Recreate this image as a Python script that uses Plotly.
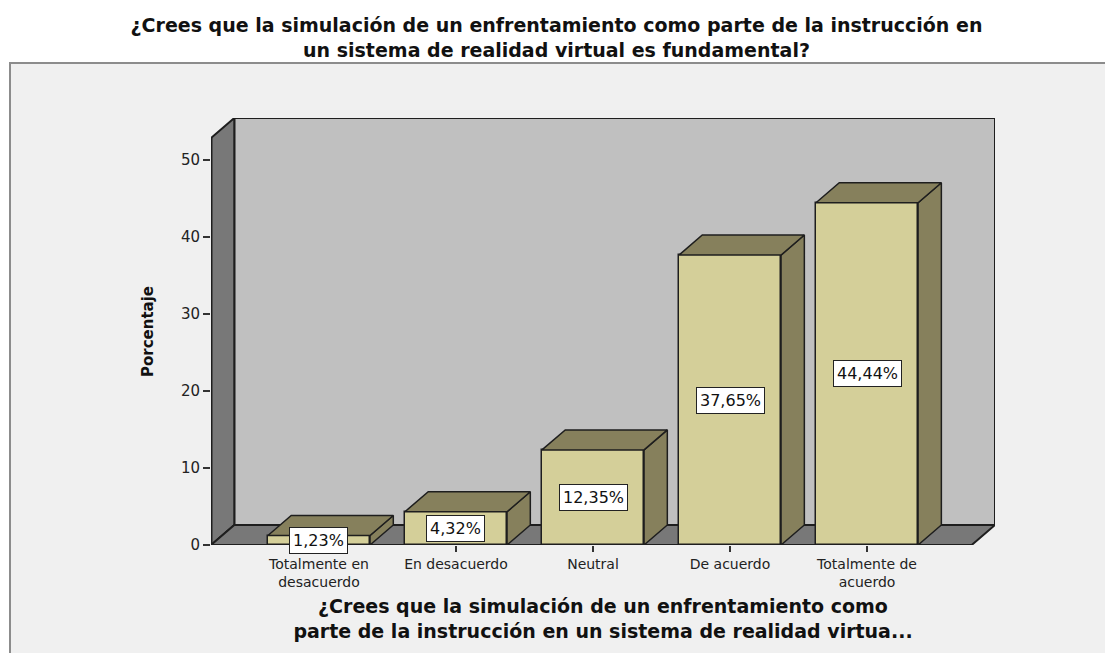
import plotly.graph_objects as go

# ---------------- data ----------------
categories = ["Totalmente en desacuerdo", "En desacuerdo", "Neutral",
              "De acuerdo", "Totalmente de acuerdo"]
tick_labels = ["Totalmente en<br>desacuerdo", "En desacuerdo", "Neutral",
               "De acuerdo", "Totalmente de<br>acuerdo"]
percentages = [1.23, 4.32, 12.35, 37.65, 44.44]
y_tick_values = [0, 10, 20, 30, 40, 50]

chart_title = ("¿Crees que la simulación de un enfrentamiento como parte de la instrucción en"
               "<br>un sistema de realidad virtual es fundamental?")
x_title = ("¿Crees que la simulación de un enfrentamiento como"
           "<br>parte de la instrucción en un sistema de realidad virtua...")
y_title = "Porcentaje"

# ---------------- styling / geometry ----------------
BAR_W = 0.745
DX = 0.17          # depth offset in x units
DY = 2.6           # depth offset in y units
X_MIN, X_MAX = -0.788, 4.934
Y_MAX = 55.45

FRONT = "#D4CF99"
SHADE = "#86805C"
WALL_BACK = "#C0C0C0"
WALL_SIDE = "#787878"
EDGE = "#1E1E1E"
FONT = "DejaVu Sans"

x_pos = list(range(len(categories)))
labels = [f"{v:.2f}".replace(".", ",") + "%" for v in percentages]

# top and side faces of each bar, derived from the values
top_x, top_y, side_x, side_y = [], [], [], []
for x, v in zip(x_pos, percentages):
    l, r = x - BAR_W / 2, x + BAR_W / 2
    top_x += [l, r, r + DX, l + DX, l, None]
    top_y += [v, v, v + DY, v + DY, v, None]
    side_x += [r, r, r + DX, r + DX, r, None]
    side_y += [0, v, v + DY, DY, 0, None]

fig = go.Figure()
fig.add_trace(go.Bar(
    x=x_pos, y=percentages, width=BAR_W,
    marker=dict(color=FRONT, line=dict(color=EDGE, width=1.5)),
    hoverinfo="skip", showlegend=False,
))
fig.add_trace(go.Scatter(
    x=side_x, y=side_y, mode="lines", fill="toself", fillcolor=SHADE,
    line=dict(color=EDGE, width=1.5), hoverinfo="skip", showlegend=False,
))
fig.add_trace(go.Scatter(
    x=top_x, y=top_y, mode="lines", fill="toself", fillcolor=SHADE,
    line=dict(color=EDGE, width=1.5), hoverinfo="skip", showlegend=False,
))

# value labels
for x, v, t in zip(x_pos, percentages, labels):
    fig.add_annotation(
        x=x, y=v / 2, text=t, showarrow=False,
        font=dict(family=FONT, size=16, color="#111111"),
        bgcolor="white", bordercolor="#222222", borderwidth=1, borderpad=3,
    )

W, H = 1113, 653
PAGE = 8  # browser body margin offset
ML, MT = 211 - PAGE, 118 - PAGE
pw, ph = 784, 427
MR, MB = W - ML - pw, H - MT - ph

shapes = [
    # outer chart frame
    dict(type="rect", xref="paper", yref="paper",
         x0=(10 - PAGE - ML) / pw, x1=(W + 20 - ML) / pw,
         y0=-(MB + 20) / ph, y1=(MT + ph - (63 - PAGE)) / ph,
         fillcolor="#F0F0F0", line=dict(color="#8C8C8C", width=2), layer="below"),
    # back wall
    dict(type="rect", xref="x", yref="y", x0=X_MIN + DX, x1=X_MAX, y0=DY, y1=Y_MAX,
         fillcolor=WALL_BACK, line=dict(color=EDGE, width=2), layer="below"),
    # side wall
    dict(type="path", xref="x", yref="y",
         path=f"M {X_MIN},0 L {X_MIN},{Y_MAX - DY} L {X_MIN + DX},{Y_MAX} L {X_MIN + DX},{DY} Z",
         fillcolor=WALL_SIDE, line=dict(color=EDGE, width=2), layer="below"),
    # floor
    dict(type="path", xref="x", yref="y",
         path=f"M {X_MIN},0 L {X_MAX - DX},0 L {X_MAX},{DY} L {X_MIN + DX},{DY} Z",
         fillcolor=WALL_SIDE, line=dict(color=EDGE, width=2), layer="below"),
    # front vertical axis edge
    dict(type="line", xref="x", yref="y", x0=X_MIN, x1=X_MIN, y0=0, y1=Y_MAX - DY,
         line=dict(color=EDGE, width=3), layer="below"),
]

fig.update_layout(
    width=W, height=H,
    margin=dict(l=ML, r=MR, t=MT, b=MB, autoexpand=False),
    paper_bgcolor="white", plot_bgcolor="rgba(0,0,0,0)",
    title=dict(text=chart_title, x=0.5 - PAGE / W, xref="container", xanchor="center",
               y=1 - 24 / H, yref="container", yanchor="top",
               font=dict(family=FONT, size=19, color="#111111", weight="bold")),
    shapes=shapes,
    showlegend=False,
    bargap=0,
)
fig.update_xaxes(
    range=[X_MIN, X_MAX], tickmode="array", tickvals=x_pos, ticktext=tick_labels,
    ticks="outside", ticklen=6, tickwidth=2, tickcolor="#333333",
    tickfont=dict(family=FONT, size=14, color="#222222"),
    showgrid=False, zeroline=False, showline=False, automargin=False,
    title=dict(text=x_title, standoff=10,
               font=dict(family=FONT, size=19, color="#111111", weight="bold")),
)
fig.update_yaxes(
    range=[0, Y_MAX], tickmode="array", tickvals=y_tick_values,
    ticks="outside", ticklen=7, tickwidth=2, tickcolor="#333333",
    tickfont=dict(family=FONT, size=15, color="#222222"),
    showgrid=False, zeroline=False, showline=False, automargin=False,
    title=dict(text=y_title, standoff=23,
               font=dict(family=FONT, size=15, color="#111111", weight="bold")),
)

fig.write_html("out.html")
